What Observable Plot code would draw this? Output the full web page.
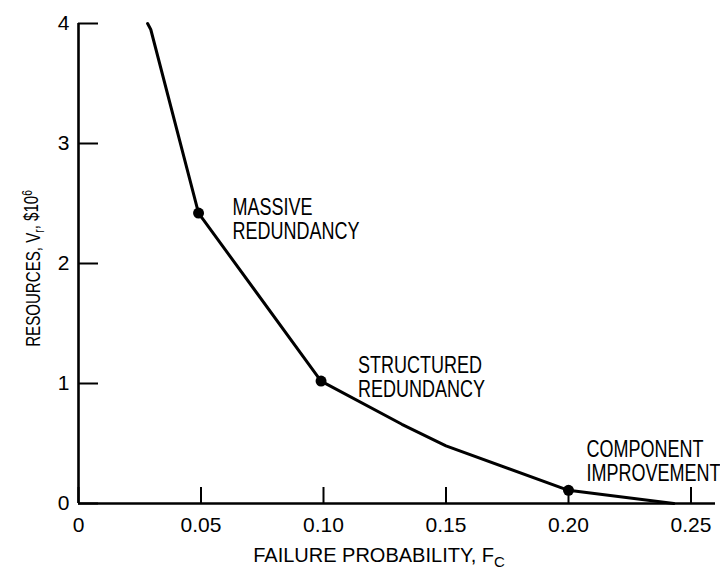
<!DOCTYPE html>
<html>
<head>
<meta charset="utf-8">
<script src="https://cdn.jsdelivr.net/npm/d3@7"></script>
<script src="https://cdn.jsdelivr.net/npm/@observablehq/plot@0.6"></script>
<style>
  html, body { margin: 0; padding: 0; background: #fff; }
</style>
</head>
<body>
<div id="chart"></div>
<script>
// ---- data ----
const failureProb = [0.0282, 0.0295, 0.049, 0.099, 0.132, 0.15, 0.20, 0.243];
const resources   = [4.0,    3.95,   2.42,  1.02,  0.66,  0.48, 0.11, 0.0];

const strategyNames     = ["MASSIVE\nREDUNDANCY", "STRUCTURED\nREDUNDANCY", "COMPONENT\nIMPROVEMENT"];
const strategyProb      = [0.049, 0.099, 0.20];
const strategyResources = [2.42, 1.02, 0.11];

const xTicks      = [0, 0.05, 0.10, 0.15, 0.20, 0.25];
const xTickLabels = ["0", "0.05", "0.10", "0.15", "0.20", "0.25"];
const yTicks      = [0, 1, 2, 3, 4];
const yTickLabels = ["0", "1", "2", "3", "4"];

const xTitle = "FAILURE PROBABILITY, F";
const xTitleSub = "C";
const yTitle = "RESOURCES, V";
const yTitleSub = "r";
const yTitleRest = ", $10";
const yTitleSup = "6";

// ---- build ----
const regular = '"Liberation Sans", Arial, sans-serif';

const curve = failureProb.map((x, i) => ({x, y: resources[i]}));
const strategies = strategyNames.map((name, i) => ({name, x: strategyProb[i], y: strategyResources[i]}));

const annot = (d, dx, dy) => Plot.text([d], {
  x: "x", y: "y", text: "name", dx, dy,
  textAnchor: "start", lineAnchor: "top", lineHeight: 1.0,
  fontFamily: regular, fontSize: 24, fill: "black"
});

const plot = Plot.plot({
  width: 720,
  height: 574,
  marginLeft: 78,
  marginRight: 5,
  marginTop: 23,
  marginBottom: 71,
  style: {fontFamily: regular, fontSize: "21px", color: "black", background: "white"},
  x: {domain: [0, 0.26]},
  y: {domain: [0, 4]},
  marks: [
    Plot.axisX({
      ticks: xTicks, tickSize: -16, tickPadding: 30, strokeWidth: 2, fontSize: 21,
      tickFormat: d => xTickLabels[xTicks.indexOf(d)], label: null
    }),
    Plot.axisY({
      ticks: yTicks, tickSize: -20, tickPadding: 29, strokeWidth: 2, fontSize: 21,
      tickFormat: d => yTickLabels[yTicks.indexOf(d)], label: null
    }),
    Plot.ruleY([0], {stroke: "black", strokeWidth: 2.6}),
    Plot.ruleX([0], {stroke: "black", strokeWidth: 2.6}),
    Plot.line(curve, {x: "x", y: "y", stroke: "black", strokeWidth: 3, strokeLinejoin: "round", strokeLinecap: "round"}),
    Plot.dot(strategies, {x: "x", y: "y", r: 5.5, fill: "black", stroke: "none"}),
    annot(strategies[0], 34, -15),
    annot(strategies[1], 37, -25),
    annot(strategies[2], 18, -50),
    Plot.text([xTitle], {
      frameAnchor: "bottom", dx: -18, dy: 58, lineAnchor: "bottom", textAnchor: "middle",
      fontFamily: regular, fontSize: 20, fill: "black"
    }),
    Plot.text([yTitle], {
      frameAnchor: "left", dx: -45, dy: 5, rotate: -90, lineAnchor: "middle", textAnchor: "middle",
      fontFamily: regular, fontSize: 21, fill: "black"
    })
  ]
});

document.getElementById("chart").appendChild(plot);

// condensed lettering: squeeze a text horizontally about its anchor
function squeeze(el, k) {
  const tr = el.getAttribute("transform");
  if (tr) {
    el.setAttribute("transform", tr + ` scale(${k},1)`);
  } else {
    const x = +el.getAttribute("x") || 0, y = +el.getAttribute("y") || 0;
    el.setAttribute("transform", `translate(${x},${y}) scale(${k},1) translate(${-x},${-y})`);
  }
}

const svg = d3.select(plot);
const annotTexts = strategyNames.map(s => s.replace("\n", ""));
svg.selectAll("text").filter(function () { return annotTexts.includes(this.textContent); })
  .each(function () { squeeze(this, 0.75); });

// sub/superscripts in the axis titles
svg.selectAll("text").filter(function () { return this.textContent === xTitle; })
  .each(function () {
    const t = d3.select(this);
    t.text(null);
    t.append("tspan").text(xTitle);
    t.append("tspan").attr("dy", "0.35em").attr("font-size", "15px").text(xTitleSub);
  });
svg.selectAll("text").filter(function () { return this.textContent === yTitle; })
  .each(function () {
    const t = d3.select(this);
    t.text(null);
    t.append("tspan").text(yTitle);
    t.append("tspan").attr("dy", "0.3em").attr("font-size", "14px").text(yTitleSub);
    t.append("tspan").attr("dy", "-0.3em").text(yTitleRest);
    t.append("tspan").attr("dy", "-0.45em").attr("font-size", "14px").text(yTitleSup);
    squeeze(this, 0.72);
  });
</script>
</body>
</html>
